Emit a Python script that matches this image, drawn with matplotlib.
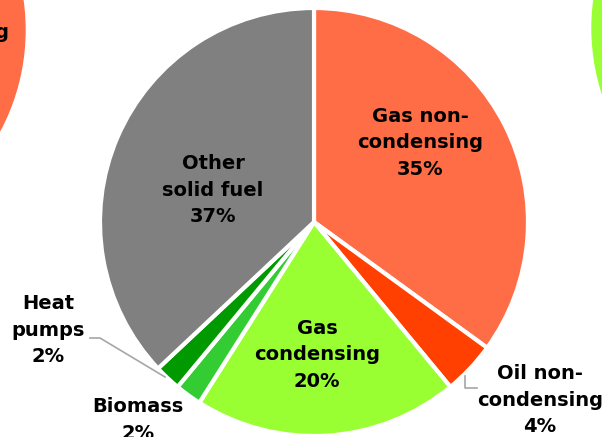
import matplotlib
matplotlib.use("Agg")
import matplotlib.pyplot as plt
from matplotlib.patches import Circle

labels = ["Gas non-\ncondensing", "Oil non-\ncondensing", "Gas\ncondensing",
          "Biomass", "Heat\npumps", "Other\nsolid fuel"]
values = [35, 4, 20, 2, 2, 37]
colors = ["#FF6D47", "#FF4000", "#99FF33", "#33CC33", "#009900", "#808080"]

W, H = 602, 437
fig = plt.figure(figsize=(W / 100, H / 100), dpi=100)
ax = fig.add_axes([0, 0, 1, 1])
ax.set_xlim(0, W)
ax.set_ylim(H, 0)
ax.set_aspect("equal")
ax.axis("off")

# neighbouring pies (cut off)
ax.add_patch(Circle((-189, 30), 214, color="#FF6D47", zorder=0))
ax.add_patch(Circle((806, 28), 214, color="#99FF33", zorder=0))
ax.text(9, 33, "condensing", ha="right", va="center", fontsize=14, fontweight="bold")

cx, cy, r = 314, 222, 214
wedges, _ = ax.pie(values, colors=colors, startangle=-90, counterclock=True,
                   center=(cx, cy), radius=r, frame=True,
                   wedgeprops=dict(edgecolor="white", linewidth=3.0))
ax.set_xlim(0, W)
ax.set_ylim(H, 0)
ax.axis("off")

fs = 14
txt = dict(ha="center", va="center", fontsize=fs, fontweight="bold", linespacing=1.5)
pos = [(420, 143), (540, 400), (317, 355), (138, 420), (48, 330), (213, 190)]
for lab, v, (x, y) in zip(labels, values, pos):
    ax.text(x, y, f"{lab}\n{v}%", **txt)

# leader lines
ax.plot([90, 100, 165], [338, 338, 377], color="#A6A6A6", lw=1.2)
ax.plot([465, 465, 477], [376, 388, 388], color="#A6A6A6", lw=1.2)

fig.savefig("out.png", dpi=100)
